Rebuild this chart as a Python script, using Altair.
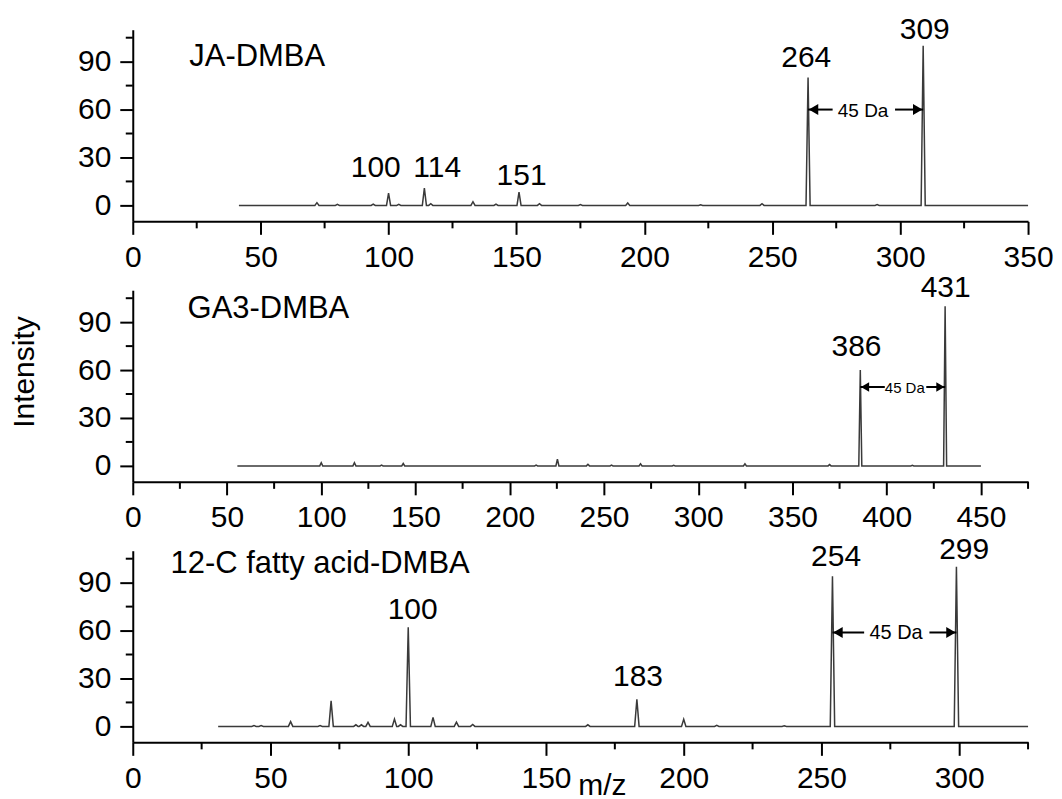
import altair as alt
import pandas as pd

# ---------------- data ----------------
# Panel 1: JA-DMBA
ja_range = [41.5, 350]
ja_mz = [72, 80, 94, 100, 104, 114, 116.5, 133, 142, 151, 159, 175, 193.5, 222, 246, 264, 291, 309]
ja_int = [1.7, 0.6, 0.8, 7.7, 0.6, 10.8, 1.0, 2.3, 0.8, 8.3, 1.0, 0.5, 1.5, 0.4, 1.0, 80, 0.5, 100]
ja_lab_text = ["100", "114", "151", "264", "309"]
ja_lab_x = [95, 119, 152, 263.3, 309.6]
ja_lab_y = [17.7, 17.7, 12.5, 86.4, 104.2]
ja_arrow_x = [264, 273.6, 298, 309]
ja_arrow_y = 60
ja_arrow_text = [285.5, 55.6]
ja_title = ["JA-DMBA", 22.1, 87.5]
ja_major = [0, 50, 100, 150, 200, 250, 300, 350]
ja_minor = [25, 75, 125, 175, 225, 275, 325]

# Panel 2: GA3-DMBA
ga_range = [55.5, 450]
ga_mz = [100, 117.6, 132, 143.5, 214, 225.3, 241.5, 254, 269.4, 287, 324.8, 369.7, 386, 413.6, 431]
ga_int = [2.0, 2.0, 0.5, 1.5, 0.5, 4.2, 1.0, 0.5, 1.3, 0.4, 1.3, 0.8, 60, 0.4, 100]
ga_lab_text = ["386", "431"]
ga_lab_x = [384, 431.3]
ga_lab_y = [68.8, 105.6]
ga_arrow_x = [386, 399, 421, 431]
ga_arrow_y = 49.4
ga_arrow_text = [409.6, 45.8]
ga_title = ["GA3-DMBA", 29.1, 92.3]
ga_major = [0, 50, 100, 150, 200, 250, 300, 350, 400, 450]
ga_minor = [25, 75, 125, 175, 225, 275, 325, 375, 425, 475]

# Panel 3: 12-C fatty acid-DMBA
fa_range = [31, 325]
fa_mz = [44, 46.6, 57.3, 68, 72, 81, 83, 85.4, 95, 97.2, 100, 109, 117.5, 123.4,
         165.2, 183, 200, 212, 236.5, 254, 299]
fa_int = [0.5, 0.5, 3.0, 0.5, 16, 1.0, 1.0, 2.5, 4.6, 1.0, 62, 5.6, 2.7, 1.2,
          1.0, 17, 4.5, 0.7, 0.4, 94, 100]
fa_lab_text = ["100", "183", "254", "299"]
fa_lab_x = [101.6, 183.4, 255.3, 301.8]
fa_lab_y = [67, 25.6, 100.4, 104.6]
fa_arrow_x = [254, 265.5, 289.2, 299]
fa_arrow_y = 58.8
fa_arrow_text = [277.1, 54.8]
fa_title = ["12-C fatty acid-DMBA", 13.7, 95.9]
fa_major = [0, 50, 100, 150, 200, 250, 300]
fa_minor = [25, 75, 125, 175, 225, 275, 325]

y_major = [0, 30, 60, 90]
y_minor = [15, 45, 75, 105]

FONT = "Liberation Sans"
W, H = 897, 192
HALF = 0.8  # peak half-width (m/z units)


def spectrum_df(rng, mz, inten):
    rows = [(rng[0], 0.0)]
    for m, h in sorted(zip(mz, inten)):
        rows += [(m - HALF, 0.0), (m, h), (m + HALF, 0.0)]
    rows.append((rng[1], 0.0))
    return pd.DataFrame({"mz": [r[0] for r in rows], "inten": [r[1] for r in rows],
                         "ord": list(range(len(rows)))})


def make_panel(rng, mz, inten, lab_text, lab_x, lab_y, arrow_x, arrow_y, arrow_text,
               title, major, minor, xmax, da_size, head_size, y_title=None, x_title=None):
    xscale = alt.Scale(domain=[0, xmax], nice=False, zero=False)
    yscale = alt.Scale(domain=[-10, 110], nice=False, zero=False)
    xaxis_kw = dict(values=major, tickSize=13, tickWidth=2, tickColor="black",
                    domainColor="black", domainWidth=2, labelFontSize=30, labelFont=FONT,
                    labelColor="black", labelPadding=8, labelFlush=False, labelOverlap=False,
                    grid=False, format="d")
    if x_title:
        xaxis_kw.update(title=x_title, titleX=470, titleY=52, titleAlign="center",
                        titleBaseline="alphabetic", titleFontSize=30, titleFont=FONT,
                        titleFontWeight="normal", titleColor="black")
    else:
        xaxis_kw.update(title=None)
    yaxis_kw = dict(values=y_major, tickSize=13, tickWidth=2, tickColor="black",
                    domainColor="black", domainWidth=2, labelFontSize=30, labelFont=FONT,
                    labelColor="black", labelPadding=9, grid=False, labelFlush=False)
    if y_title:
        yaxis_kw.update(title=y_title, titleX=-99, titleY=81.5, titleAngle=270,
                        titleAlign="center", titleBaseline="alphabetic", titleFontSize=30,
                        titleFont=FONT, titleFontWeight="normal", titleColor="black")
    else:
        yaxis_kw.update(title=None)

    line = alt.Chart(spectrum_df(rng, mz, inten)).mark_line(
        color="#3a3a3a", strokeWidth=1.5, interpolate="linear"
    ).encode(
        x=alt.X("mz:Q", scale=xscale, axis=alt.Axis(**xaxis_kw)),
        y=alt.Y("inten:Q", scale=yscale, axis=alt.Axis(**yaxis_kw)),
        order="ord:Q",
    )

    xminor = alt.Chart(pd.DataFrame({"mz": minor})).mark_rule(
        color="black", strokeWidth=2
    ).encode(x="mz:Q", y=alt.value(H), y2=alt.value(H + 7))

    yminor = alt.Chart(pd.DataFrame({"inten": y_minor})).mark_rule(
        color="black", strokeWidth=2
    ).encode(y="inten:Q", x=alt.value(0), x2=alt.value(-7))

    labels = alt.Chart(pd.DataFrame({"mz": lab_x, "inten": lab_y, "label": lab_text})).mark_text(
        font=FONT, fontSize=30, color="black", align="center", baseline="alphabetic"
    ).encode(x="mz:Q", y="inten:Q", text="label:N")

    ttl = alt.Chart(pd.DataFrame({"mz": [title[1]], "inten": [title[2]], "label": [title[0]]})).mark_text(
        font=FONT, fontSize=31, color="black", align="left", baseline="alphabetic"
    ).encode(x="mz:Q", y="inten:Q", text="label:N")

    seg_df = pd.DataFrame({"mz": [arrow_x[0], arrow_x[2]], "mz2": [arrow_x[1], arrow_x[3]],
                           "inten": [arrow_y, arrow_y]})
    segs = alt.Chart(seg_df).mark_rule(color="black", strokeWidth=2).encode(
        x="mz:Q", x2="mz2:Q", y="inten:Q")

    off = (head_size ** 0.5) / 2
    head_l = alt.Chart(pd.DataFrame({"mz": [arrow_x[0]], "inten": [arrow_y]})).mark_point(
        shape="triangle-left", filled=True, size=head_size, color="black", opacity=1, xOffset=off
    ).encode(x="mz:Q", y="inten:Q")
    head_r = alt.Chart(pd.DataFrame({"mz": [arrow_x[3]], "inten": [arrow_y]})).mark_point(
        shape="triangle-right", filled=True, size=head_size, color="black", opacity=1, xOffset=-off
    ).encode(x="mz:Q", y="inten:Q")

    da = alt.Chart(pd.DataFrame({"mz": [arrow_text[0]], "inten": [arrow_text[1]], "label": ["45 Da"]})).mark_text(
        font=FONT, fontSize=da_size, color="black", align="center", baseline="alphabetic"
    ).encode(x="mz:Q", y="inten:Q", text="label:N")

    return alt.layer(line, xminor, yminor, labels, ttl, segs, head_l, head_r, da).properties(
        width=W, height=H)


p1 = make_panel(ja_range, ja_mz, ja_int, ja_lab_text, ja_lab_x, ja_lab_y, ja_arrow_x, ja_arrow_y,
                ja_arrow_text, ja_title, ja_major, ja_minor, 350, 19, 120)
p2 = make_panel(ga_range, ga_mz, ga_int, ga_lab_text, ga_lab_x, ga_lab_y, ga_arrow_x, ga_arrow_y,
                ga_arrow_text, ga_title, ga_major, ga_minor, 475, 15, 90, y_title="Intensity")
p3 = make_panel(fa_range, fa_mz, fa_int, fa_lab_text, fa_lab_x, fa_lab_y, fa_arrow_x, fa_arrow_y,
                fa_arrow_text, fa_title, fa_major, fa_minor, 325, 20, 120, x_title="m/z")

chart = alt.vconcat(p1, p2, p3, spacing=69, bounds="flush").properties(
    padding={"left": 2, "top": 6, "right": 0, "bottom": 0}
).configure(font=FONT).configure_view(stroke=None)

chart.save("out.html", embed_options={"renderer": "svg", "actions": False})
